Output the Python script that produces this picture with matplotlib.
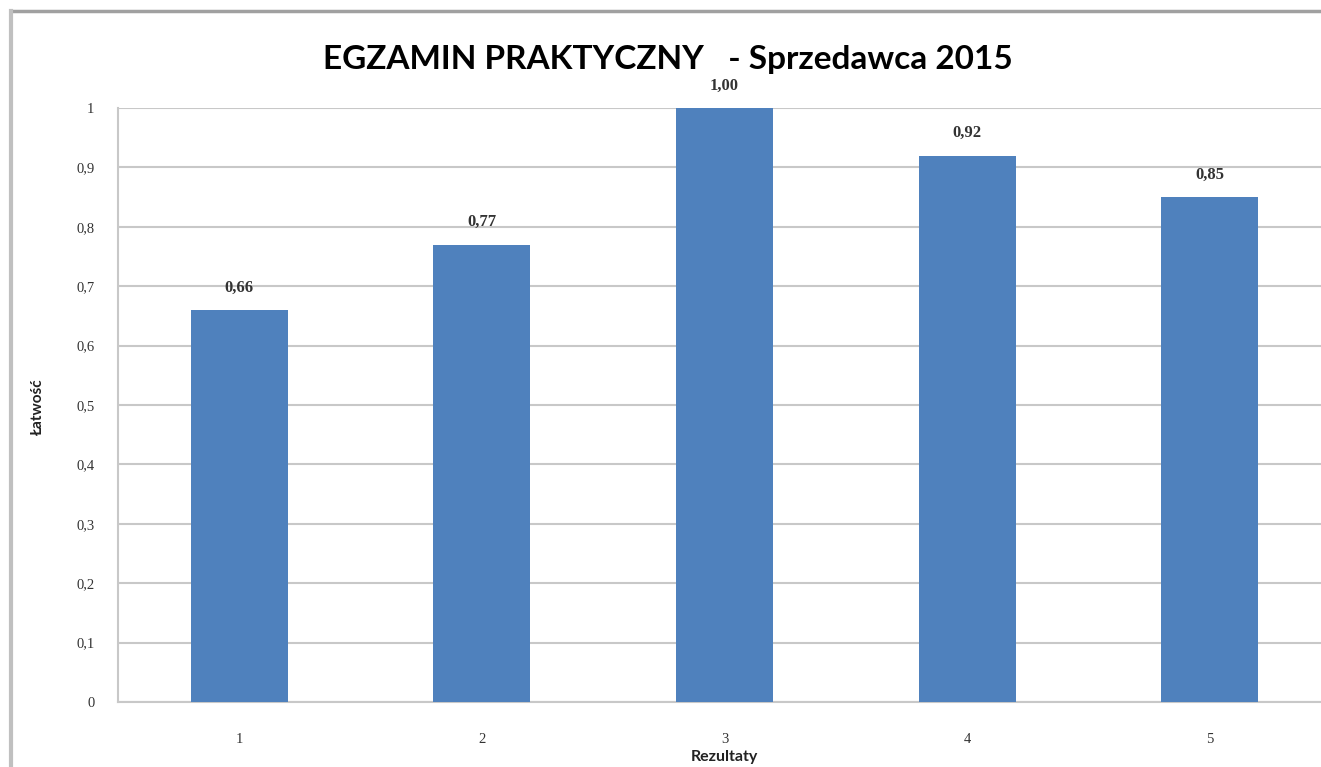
import matplotlib.pyplot as plt
from matplotlib.lines import Line2D

# Dane
kategorie = ['1', '2', '3', '4', '5']
latwosc = [0.66, 0.77, 1.00, 0.92, 0.85]
etykiety = ['0,66', '0,77', '1,00', '0,92', '0,85']
y_ticks = [0, 0.1, 0.2, 0.3, 0.4, 0.5, 0.6, 0.7, 0.8, 0.9, 1]
y_tick_labels = ['0', '0,1', '0,2', '0,3', '0,4', '0,5', '0,6', '0,7', '0,8', '0,9', '1']

fig = plt.figure(figsize=(13.21, 7.67), dpi=100)
W, H = 1321, 767

# obszar wykresu (wychodzi poza prawą krawędź, jak na zrzucie)
ax = fig.add_axes([118 / W, (H - 702) / H, (1331 - 118) / W, 594 / H])

x = range(len(kategorie))
ax.bar(x, latwosc, width=0.4, color='#4f81bd', zorder=3)

for i, v in enumerate(latwosc):
    ax.text(i, v + 0.038, etykiety[i], ha='center', va='center',
            fontsize=12, family='Liberation Serif', color='#333333',
            fontweight='bold', zorder=4)

ax.set_xlim(-0.5, 4.5)
ax.set_ylim(0, 1)
ax.set_yticks(y_ticks)
ax.set_yticklabels(y_tick_labels, family='Liberation Serif', fontsize=10.5,
                   color='#333333')
ax.set_xticks(list(x))
ax.set_xticklabels(kategorie, family='Liberation Serif', fontsize=10.5,
                   color='#333333')
ax.tick_params(length=0)
ax.tick_params(axis='y', pad=17)
ax.tick_params(axis='x', pad=22)

ax.grid(axis='y', color='#c8c8c8', linewidth=1.5, zorder=0)
for s in ['top', 'right']:
    ax.spines[s].set_visible(False)
ax.spines['left'].set_color('#c8c8c8')
ax.spines['bottom'].set_color('#c8c8c8')
ax.spines['left'].set_linewidth(1.5)
ax.spines['bottom'].set_linewidth(1.5)

fig.text(668 / W, 1 - 60 / H, 'EGZAMIN PRAKTYCZNY   - Sprzedawca 2015',
         ha='center', va='center', fontsize=24, fontweight='bold', family='Lato')
fig.text(38 / W, 1 - 407 / H, 'Łatwość', rotation=90, ha='center', va='center',
         fontsize=11, family='Lato', fontweight='bold', color='#222222')
fig.text(724 / W, 1 - 757 / H, 'Rezultaty', ha='center', va='center',
         fontsize=11.5, family='Lato', fontweight='bold', color='#222222')

# szara ramka zrzutu ekranu
fig.add_artist(Line2D([11 / W, 1], [1 - 11 / H, 1 - 11 / H], color='#a0a0a0', linewidth=2.5))
fig.add_artist(Line2D([11 / W, 11 / W], [0, 1 - 11 / H], color='#c0c0c0', linewidth=3))

fig.savefig('out.png', dpi=100)
